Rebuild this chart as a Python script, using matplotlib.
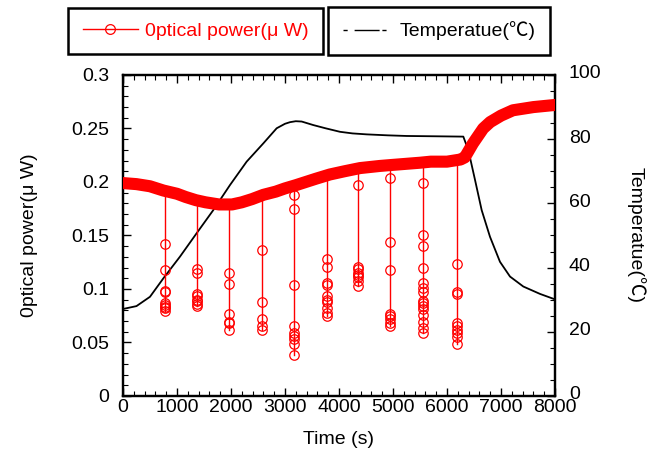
import matplotlib
matplotlib.use("Agg")
import matplotlib.pyplot as plt
from matplotlib.lines import Line2D
from matplotlib.ticker import MultipleLocator
from matplotlib.transforms import ScaledTranslation

plt.rcParams['font.family'] = ['Liberation Sans', 'Noto Sans CJK JP', 'DejaVu Sans']

# ---- data ----
time_main = [0, 250, 500, 750, 1000, 1160, 1350, 1530, 1780, 2020, 2200, 2390, 2600,
             2830, 3000, 3200, 3570, 3830, 4100, 4390, 4760, 5000, 5500, 5700, 6000,
             6250, 6330, 6480, 6670, 6800, 7000, 7220, 7600, 8000]
power_main = [0.199, 0.198, 0.196, 0.192, 0.189, 0.186, 0.183, 0.181, 0.179, 0.179,
              0.181, 0.184, 0.188, 0.191, 0.194, 0.197, 0.203, 0.207, 0.210, 0.213,
              0.215, 0.216, 0.218, 0.219, 0.219, 0.221, 0.223, 0.236, 0.250, 0.256,
              0.262, 0.267, 0.270, 0.272]

dip_times = [780, 1370, 1965, 2570, 3160, 3770, 4360, 4950, 5550, 6180]
dip_values = [
    [0.142, 0.118, 0.098, 0.097, 0.087, 0.085, 0.083, 0.082, 0.079],
    [0.119, 0.115, 0.095, 0.093, 0.090, 0.089, 0.086, 0.084],
    [0.115, 0.105, 0.077, 0.069, 0.068, 0.062],
    [0.136, 0.088, 0.072, 0.065, 0.062],
    [0.188, 0.175, 0.104, 0.065, 0.059, 0.056, 0.053, 0.049, 0.038],
    [0.128, 0.121, 0.106, 0.104, 0.093, 0.090, 0.088, 0.082, 0.078, 0.075],
    [0.197, 0.121, 0.119, 0.115, 0.113, 0.111, 0.107, 0.103],
    [0.204, 0.144, 0.118, 0.077, 0.075, 0.072, 0.068, 0.065],
    [0.199, 0.150, 0.140, 0.120, 0.106, 0.101, 0.097, 0.089, 0.087, 0.084, 0.081,
     0.076, 0.069, 0.064, 0.059],
    [0.123, 0.097, 0.095, 0.068, 0.065, 0.062, 0.059, 0.055, 0.049],
]
dip_tops = [0.191, 0.183, 0.179, 0.188, 0.197, 0.207, 0.213, 0.216, 0.218, 0.220]

time_temp = [0, 250, 500, 750, 1055, 1364, 1672, 1981, 2290, 2599, 2846, 3000, 3093,
             3200, 3309, 3524, 3750, 4019, 4250, 4512, 4900, 5253, 5800, 6302, 6395,
             6519, 6642, 6796, 6981, 7167, 7413, 7722, 8000]
temp = [27.1, 28.0, 30.9, 36.7, 43.4, 50.7, 57.9, 65.7, 73.0, 78.7, 83.4, 84.8, 85.3,
        85.6, 85.5, 84.4, 83.4, 82.3, 81.8, 81.5, 81.2, 81.0, 80.9, 80.8, 76.6,
        67.3, 57.9, 49.6, 41.8, 37.2, 34.1, 31.8, 30.1]

label_power = '0ptical power(μ W)'
label_temp = 'Temperatue(℃)'
red = '#ff0000'
fs = 14

fig = plt.figure(figsize=(6.59, 4.55), dpi=100)
ax = fig.add_axes([0.1866, 0.1297, 0.8422 - 0.1866, 0.8352 - 0.1297])
ax2 = ax.twinx()

# temperature (behind)
ax2.plot(time_temp, temp, color='black', lw=1.3, zorder=1)

# optical power band
ax.plot(time_main, power_main, color=red, lw=8.7, solid_capstyle='round',
        solid_joinstyle='round', zorder=3)
for t, top, vals in zip(dip_times, dip_tops, dip_values):
    ax.plot([t, t], [top, min(vals)], color=red, lw=1.0, zorder=3)
    ax.plot([t] * len(vals), vals, linestyle='none', marker='o', ms=6.8,
            mfc='none', mec=red, mew=0.9, zorder=4)

ax.set_zorder(ax2.get_zorder() + 1)
ax.patch.set_visible(False)

ax.set_xlim(0, 8000)
ax.set_ylim(0, 0.3)
ax2.set_ylim(0, 100)

ax.xaxis.set_major_locator(MultipleLocator(1000))
ax.xaxis.set_minor_locator(MultipleLocator(200))
ax.yaxis.set_major_locator(MultipleLocator(0.05))
ax.yaxis.set_minor_locator(MultipleLocator(0.01))
ax2.yaxis.set_major_locator(MultipleLocator(20))
ax2.yaxis.set_minor_locator(MultipleLocator(5))

ax.set_yticks([0, 0.05, 0.1, 0.15, 0.2, 0.25, 0.3])
ax.set_yticklabels(['0', '0.05', '0.1', '0.15', '0.2', '0.25', '0.3'])

ax.tick_params(axis='x', which='both', direction='in', top=True, bottom=True,
               labelsize=fs, pad=2)
ax.tick_params(axis='y', which='both', direction='in', left=True, right=False,
               labelsize=fs, pad=10)
ax2.tick_params(axis='y', which='both', direction='in', right=True, labelsize=fs, pad=10)
for a in (ax, ax2):
    a.tick_params(which='major', length=6, width=1.0)
    a.tick_params(which='minor', length=3.5, width=0.8)
    for s in a.spines.values():
        s.set_linewidth(1.6)

# right-hand labels sit a few pixels higher in the reference
shift = ScaledTranslation(0, 3 / 100, fig.dpi_scale_trans)
for lbl in ax2.get_yticklabels():
    lbl.set_transform(lbl.get_transform() + shift)

ax.set_xlabel('Time (s)', fontsize=fs, labelpad=11)
ax.set_ylabel(label_power, fontsize=fs, labelpad=24)
ax2.set_ylabel(label_temp, fontsize=fs, rotation=270, labelpad=32)

# legends
h1 = Line2D([], [], color=red, lw=1.0, marker='o', ms=7, mfc='none', mec=red, mew=0.9)
h2 = Line2D([], [], color='black', lw=1.0, dashes=(3, 5, 18, 2))
common = dict(loc='center', fontsize=fs, fancybox=False, edgecolor='black',
              framealpha=1, borderpad=0.75, borderaxespad=0)
leg1 = fig.legend([h1], [label_power], bbox_to_anchor=(0.2974, 0.9319),
                  handlelength=2.8, handletextpad=0.4, **common)
leg1.get_frame().set_linewidth(1.8)
for t in leg1.get_texts():
    t.set_color(red)
leg2 = fig.legend([h2], [label_temp], bbox_to_anchor=(0.6662, 0.9319),
                  handlelength=2.3, handletextpad=0.6, **common)
leg2.get_frame().set_linewidth(1.8)

fig.savefig('out.png', dpi=100)
